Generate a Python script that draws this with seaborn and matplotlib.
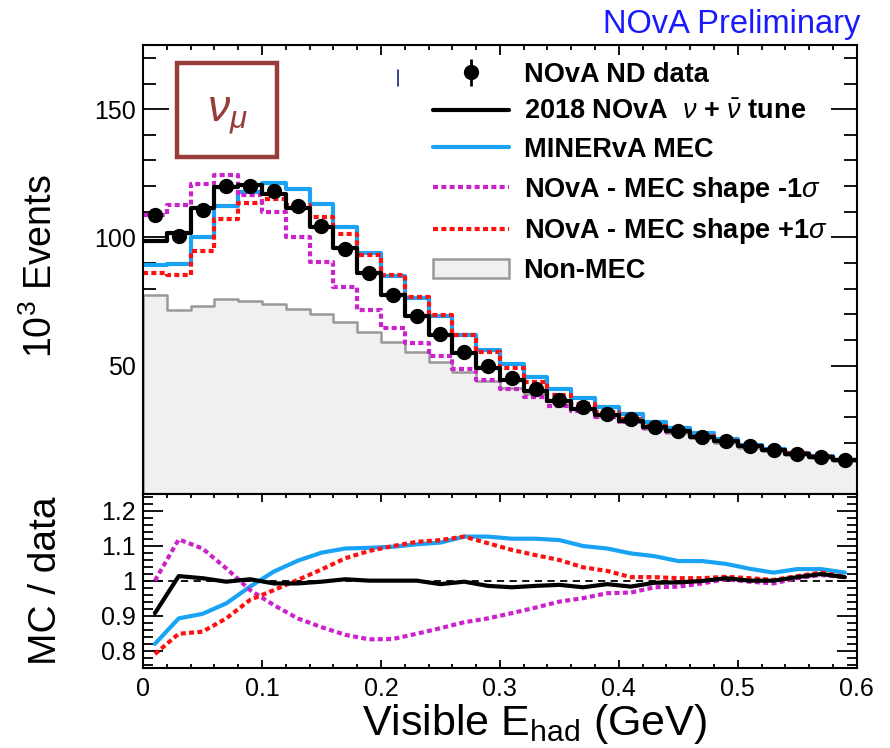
import numpy as np
import pandas as pd
import matplotlib
matplotlib.use("Agg")
import matplotlib.pyplot as plt
import seaborn as sns
from matplotlib.lines import Line2D
from matplotlib.patches import Patch, Rectangle
from matplotlib.ticker import MultipleLocator, FixedLocator, FuncFormatter

# ---- data (30 bins of 0.02 GeV) ----
bin_edges = [round(0.02 * i, 2) for i in range(31)]
bin_centers = [round(0.01 + 0.02 * i, 2) for i in range(30)]

# NOvA ND data, 10^3 events
nd_data = np.array([108.8, 100.6, 110.8, 120.2, 119.9, 118.0, 112.4, 104.5, 95.4, 86.0,
                    77.5, 69.2, 62.4, 55.2, 50.0, 45.2, 40.8, 36.5, 33.9, 31.0,
                    29.1, 26.1, 24.5, 22.4, 20.5, 18.6, 17.3, 15.6, 14.3, 13.1])
nd_err = np.array([0.8] * 10 + [0.6] * 10 + [0.4] * 10)

# Non-MEC component, 10^3 events
non_mec = np.array([77.5, 71.6, 73.1, 76.1, 75.2, 73.9, 72.2, 70.3, 67.0, 63.1,
                    59.1, 55.2, 51.3, 47.4, 44.1, 41.3, 38.9, 36.3, 33.4, 30.6,
                    27.9, 25.4, 23.8, 21.8, 20.0, 18.1, 16.8, 15.2, 13.9, 12.8])

# MC / data ratios (bottom panel)
ratio_tune = np.array([0.907, 1.013, 1.007, 0.997, 1.004, 0.992, 0.992, 0.997, 1.004, 1.000,
                       1.000, 1.000, 0.990, 0.997, 0.985, 0.981, 0.985, 0.988, 0.981, 0.990,
                       0.983, 0.994, 0.995, 0.999, 1.007, 1.000, 1.000, 1.010, 1.019, 1.010])
ratio_minerva = np.array([0.819, 0.892, 0.905, 0.935, 0.983, 1.026, 1.057, 1.080, 1.092, 1.094,
                          1.097, 1.104, 1.109, 1.126, 1.126, 1.120, 1.120, 1.116, 1.099, 1.092,
                          1.078, 1.070, 1.056, 1.056, 1.048, 1.034, 1.023, 1.033, 1.033, 1.023])
ratio_minus = np.array([1.000, 1.118, 1.092, 1.035, 0.973, 0.930, 0.892, 0.867, 0.845, 0.832,
                        0.833, 0.848, 0.864, 0.881, 0.892, 0.907, 0.923, 0.940, 0.950, 0.964,
                        0.966, 0.981, 0.983, 0.992, 1.004, 0.997, 0.992, 1.007, 1.016, 1.010])
ratio_plus = np.array([0.790, 0.848, 0.854, 0.892, 0.945, 0.973, 1.002, 1.032, 1.064, 1.085,
                       1.099, 1.111, 1.116, 1.126, 1.107, 1.088, 1.073, 1.059, 1.038, 1.028,
                       1.010, 1.010, 1.007, 1.007, 1.011, 1.007, 1.002, 1.013, 1.023, 1.011])

# MC histograms = data x (MC / data)
mc_tune = nd_data * ratio_tune
mc_minerva = nd_data * ratio_minerva
mc_minus = nd_data * ratio_minus
mc_plus = nd_data * ratio_plus

labels = ["NOvA ND data",
          r"2018 NOvA  $\nu$ + $\bar{\nu}$ tune",
          "MINERvA MEC",
          r"NOvA - MEC shape -1$\sigma$",
          r"NOvA - MEC shape +1$\sigma$",
          "Non-MEC"]

C_BLACK = "black"
C_BLUE = "#1aa3f5"
C_MAGENTA = "#cc22cc"
C_RED = "#ff1010"
C_GREY = "#999999"
C_FILL = "#f0f0f0"
C_BOX = "#983c39"
DOTS = (0, (1.2, 0.8))

sns.set_theme(style="ticks")
plt.rcParams["font.family"] = ["Liberation Sans", "DejaVu Sans"]
plt.rcParams["mathtext.fontset"] = "custom"
plt.rcParams["mathtext.rm"] = "Liberation Sans"
plt.rcParams["mathtext.it"] = "Liberation Sans:italic"
plt.rcParams["mathtext.bf"] = "Liberation Sans:bold"
for key in ("text.color", "axes.labelcolor", "xtick.color", "ytick.color", "axes.edgecolor"):
    plt.rcParams[key] = "black"

fig = plt.figure(figsize=(8.9, 7.48), dpi=100)
ax = fig.add_axes([0.1607, 0.3396, 0.802, 0.6002])
rax = fig.add_axes([0.1607, 0.1074, 0.802, 0.2322])

hist = pd.DataFrame({"x": bin_centers, "non_mec": non_mec, "tune": mc_tune,
                     "minerva": mc_minerva, "minus": mc_minus, "plus": mc_plus})

# ---- top panel ----
sns.histplot(data=hist, x="x", weights="non_mec", bins=bin_edges, element="step", fill=True,
             color=C_FILL, alpha=1, edgecolor=C_GREY, linewidth=1.8, ax=ax)
step_series = [
    ("minerva", C_BLUE, "-"),
    ("plus", C_RED, DOTS),
    ("minus", C_MAGENTA, DOTS),
    ("tune", C_BLACK, "-"),
]
for col_name, col, ls in step_series:
    sns.histplot(data=hist, x="x", weights=col_name, bins=bin_edges, element="step",
                 fill=False, color=col, linewidth=3, linestyle=ls, ax=ax)
ax.errorbar(bin_centers, nd_data, yerr=nd_err, fmt="o", color="black", ms=10,
            elinewidth=2, capsize=0, zorder=5)

ax.set_xlim(0, 0.6)
ax.set_ylim(0, 175)
ax.set_xlabel("")
ax.set_ylabel("")
ax.yaxis.set_major_locator(FixedLocator([50, 100, 150]))
ax.yaxis.set_minor_locator(MultipleLocator(10))
ax.xaxis.set_major_locator(MultipleLocator(0.1))
ax.xaxis.set_minor_locator(MultipleLocator(0.02))
ax.tick_params(axis="both", which="both", direction="in", top=True, right=True,
               width=1.3, labelsize=18, pad=5)
ax.tick_params(axis="y", which="major", length=19)
ax.tick_params(axis="y", which="minor", length=9.5)
ax.tick_params(axis="x", which="major", length=7, labelbottom=False)
ax.tick_params(axis="x", which="minor", length=3.6)

# nu_mu box
ax.add_patch(Rectangle((0.0476, 0.7506), 0.140, 0.2094, transform=ax.transAxes,
                       fill=False, edgecolor=C_BOX, linewidth=3.2, zorder=6))
ax.text(0.1176, 0.842, r"$\nu_{\mu}$", transform=ax.transAxes, color=C_BOX,
        fontsize=32, ha="center", va="center", zorder=6)
ax.plot([0.357, 0.357], [0.909, 0.944], transform=ax.transAxes, color="#1a237e", lw=1.2)

# legend
data_handle = ax.errorbar([], [], yerr=[], fmt="o", color="black", ms=10, elinewidth=2)
handles = [data_handle,
           Line2D([], [], color=C_BLACK, lw=3),
           Line2D([], [], color=C_BLUE, lw=3),
           Line2D([], [], color=C_MAGENTA, lw=3, ls=DOTS),
           Line2D([], [], color=C_RED, lw=3, ls=DOTS),
           Patch(facecolor=C_FILL, edgecolor=C_GREY, linewidth=1.8)]
ax.legend(handles, labels, loc="upper left", bbox_to_anchor=(0.406, 0.963), frameon=False,
          borderpad=0, borderaxespad=0, handlelength=2.8, handletextpad=0.55,
          labelspacing=0.43, prop={"weight": "bold", "size": 19.5})

# ---- ratio panel ----
rax.axhline(1.0, color="black", lw=1.3, ls=(0, (4, 3)))
ratio_series = [
    ("MINERvA MEC", ratio_minerva, C_BLUE, ""),
    ("-1sigma", ratio_minus, C_MAGENTA, (1.2, 0.8)),
    ("+1sigma", ratio_plus, C_RED, (1.2, 0.8)),
    ("tune", ratio_tune, C_BLACK, ""),
]
for name, vals, col, dash in ratio_series:
    df = pd.DataFrame({"x": bin_centers, "ratio": vals, "model": name})
    sns.lineplot(data=df, x="x", y="ratio", style="model", dashes={name: dash},
                 color=col, linewidth=3, legend=False, ax=rax)

rax.set_xlim(0, 0.6)
rax.set_ylim(0.751, 1.248)
rax.set_xlabel("")
rax.set_ylabel("")
rax.xaxis.set_major_locator(MultipleLocator(0.1))
rax.xaxis.set_minor_locator(MultipleLocator(0.02))
rax.yaxis.set_major_locator(MultipleLocator(0.1))
rax.yaxis.set_minor_locator(MultipleLocator(0.02))
fmt = FuncFormatter(lambda v, p: f"{v:g}")
rax.xaxis.set_major_formatter(fmt)
rax.yaxis.set_major_formatter(fmt)
rax.tick_params(axis="both", which="both", direction="in", top=True, right=True,
                width=1.3, labelsize=18)
rax.tick_params(axis="y", which="major", length=14.4, pad=5)
rax.tick_params(axis="y", which="minor", length=7)
rax.tick_params(axis="x", which="major", length=5.8, pad=7)
rax.tick_params(axis="x", which="minor", length=3.2)

for a in (ax, rax):
    for sp in a.spines.values():
        sp.set_linewidth(1.5)
        sp.set_color("black")

# ---- axis titles ----
fig.text(0.046, 1 - 266 / 748, r"10$^{3}$ Events", rotation=90, ha="center", va="center",
         fontsize=27)
fig.text(0.052, 1 - 581 / 748, "MC / data", rotation=90, ha="center", va="center",
         fontsize=28)
fig.text(535 / 890, 1 - 735 / 748, r"Visible E$_{\mathrm{had}}$ (GeV)", ha="center",
         va="baseline", fontsize=31)
fig.text(860 / 890, 1 - 33 / 748, "NOvA Preliminary", color="#1a1aff", ha="right",
         va="baseline", fontsize=23.5)

fig.savefig("out.png", dpi=100, facecolor="white")
